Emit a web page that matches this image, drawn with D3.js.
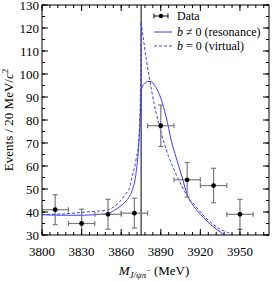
<!DOCTYPE html>
<html>
<head>
<meta charset="utf-8">
<script src="https://cdn.jsdelivr.net/npm/d3@7"></script>
<style>
  body { margin: 0; background: #fff; }
  svg text { font-family: "Liberation Serif", "DejaVu Serif", serif; }
</style>
</head>
<body>
<script>
// data
var threshold = 3875.1;
var binCenters = [3810, 3830, 3850, 3870, 3890, 3910, 3930, 3950];
var counts = [41, 35, 39, 39.5, 77.5, 54, 51.5, 39];
var countErr = [6.5, 6.2, 6.5, 6.5, 9, 7.5, 7.5, 6.5];
var binHalf = 10;

// b != 0 (resonance), left and right of threshold
var resLeftX = [3800, 3815, 3830, 3840, 3849, 3855, 3860, 3864, 3867, 3869, 3870.5, 3871.5, 3872.5, 3873.3, 3874, 3874.6, 3875.1];
var resLeftY = [38.8, 38.6, 38.6, 38.8, 39.2, 40.8, 42.8, 45, 47.5, 50.5, 54, 58, 63, 69, 76, 84, 93];
var resRightX = [3875.1, 3876, 3878, 3880, 3882, 3886, 3890, 3894, 3898, 3902, 3906, 3910, 3915, 3920, 3925, 3930, 3935, 3940, 3945];
var resRightY = [93, 94.5, 96, 96.7, 96.8, 94.5, 89.5, 81.5, 71, 63, 55.5, 47.5, 42.5, 39, 36, 33.5, 31.3, 29.3, 27.5];

// b = 0 (virtual)
var virLeftX = [3800, 3814, 3830, 3840, 3849, 3855, 3859, 3863, 3866.7, 3868, 3870, 3871.5, 3873, 3874, 3874.6, 3875.1];
var virLeftY = [38.9, 39.1, 39.8, 40.3, 40.8, 42.5, 44.6, 47.5, 51.2, 54.8, 59, 63.5, 69, 79, 92, 122.5];
var virRightX = [3875.1, 3877, 3879, 3881, 3883, 3885, 3888, 3892, 3896, 3900, 3904, 3908, 3911, 3915, 3920, 3925, 3930, 3935, 3940, 3945, 3950];
var virRightY = [122.5, 114.5, 106.5, 99.5, 93, 87, 79.5, 71, 64, 58.5, 53.5, 49, 46, 43.5, 40, 37, 34.5, 32.5, 31.3, 29.8, 28.5];

var xTicks = [3800, 3830, 3860, 3890, 3920, 3950];
var yTicks = [30, 40, 50, 60, 70, 80, 90, 100, 110, 120, 130];

var width = 274, height = 281;
var pLeft = 42, pRight = 269, pTop = 5, pBottom = 235;
var blue = "#3c3cff";

var svg = d3.select("body").append("svg")
    .attr("width", width)
    .attr("height", height);

var x = d3.scaleLinear().domain([3800, 3972]).range([pLeft, pRight]);
var y = d3.scaleLinear().domain([30, 130]).range([pBottom, pTop]);

svg.append("clipPath").attr("id", "plot")
  .append("rect")
    .attr("x", pLeft).attr("y", pTop)
    .attr("width", pRight - pLeft).attr("height", pBottom - pTop);

var g = svg.append("g").attr("clip-path", "url(#plot)");

// threshold line
g.append("line")
    .attr("x1", x(threshold)).attr("x2", x(threshold))
    .attr("y1", pTop).attr("y2", pBottom)
    .attr("stroke", "#000").attr("stroke-width", 1);

var line = d3.line().curve(d3.curveMonotoneX)
    .x(function(d) { return x(d[0]); })
    .y(function(d) { return y(d[1]); });

function drawCurve(xs, ys, dash) {
  g.append("path")
      .attr("d", line(d3.zip(xs, ys)))
      .attr("fill", "none")
      .attr("stroke", blue)
      .attr("stroke-width", 1)
      .attr("stroke-dasharray", dash);
}
drawCurve(resLeftX, resLeftY, null);
drawCurve(resRightX, resRightY, null);
drawCurve(virLeftX, virLeftY, "3,2");
drawCurve(virRightX, virRightY, "3,2");

// data points
var pts = g.selectAll(".pt")
    .data(d3.range(binCenters.length))
    .enter().append("g");

var errColor = "#7a7a7a";
pts.append("line")
    .attr("x1", function(i) { return x(binCenters[i] - binHalf); })
    .attr("x2", function(i) { return x(binCenters[i] + binHalf); })
    .attr("y1", function(i) { return y(counts[i]); })
    .attr("y2", function(i) { return y(counts[i]); })
    .attr("stroke", errColor).attr("stroke-width", 1.2);
pts.append("line")
    .attr("x1", function(i) { return x(binCenters[i]); })
    .attr("x2", function(i) { return x(binCenters[i]); })
    .attr("y1", function(i) { return y(counts[i] - countErr[i]); })
    .attr("y2", function(i) { return y(counts[i] + countErr[i]); })
    .attr("stroke", errColor).attr("stroke-width", 1.2);
// caps
[-1, 1].forEach(function(s) {
  pts.append("line")
      .attr("x1", function(i) { return x(binCenters[i] + s * binHalf); })
      .attr("x2", function(i) { return x(binCenters[i] + s * binHalf); })
      .attr("y1", function(i) { return y(counts[i]) - 2.5; })
      .attr("y2", function(i) { return y(counts[i]) + 2.5; })
      .attr("stroke", errColor).attr("stroke-width", 1.2);
  pts.append("line")
      .attr("x1", function(i) { return x(binCenters[i]) - 2.5; })
      .attr("x2", function(i) { return x(binCenters[i]) + 2.5; })
      .attr("y1", function(i) { return y(counts[i] + s * countErr[i]); })
      .attr("y2", function(i) { return y(counts[i] + s * countErr[i]); })
      .attr("stroke", errColor).attr("stroke-width", 1.2);
});
pts.append("circle")
    .attr("cx", function(i) { return x(binCenters[i]); })
    .attr("cy", function(i) { return y(counts[i]); })
    .attr("r", 2.4)
    .attr("fill", "#000");

// frame and ticks
svg.append("rect")
    .attr("x", pLeft).attr("y", pTop)
    .attr("width", pRight - pLeft).attr("height", pBottom - pTop)
    .attr("fill", "none").attr("stroke", "#000").attr("stroke-width", 1);

var xMinor = d3.range(3800, 3973, 6);
var yMinor = d3.range(30, 131, 5);

function tickSet(vals, len, horiz) {
  vals.forEach(function(v) {
    if (horiz) {
      var px = x(v);
      svg.append("line").attr("x1", px).attr("x2", px).attr("y1", pBottom).attr("y2", pBottom - len).attr("stroke", "#000");
      svg.append("line").attr("x1", px).attr("x2", px).attr("y1", pTop).attr("y2", pTop + len).attr("stroke", "#000");
    } else {
      var py = y(v);
      svg.append("line").attr("x1", pLeft).attr("x2", pLeft + len).attr("y1", py).attr("y2", py).attr("stroke", "#000");
      svg.append("line").attr("x1", pRight).attr("x2", pRight - len).attr("y1", py).attr("y2", py).attr("stroke", "#000");
    }
  });
}
tickSet(xMinor, 3, true);
tickSet(xTicks, 6, true);
tickSet(yMinor, 3, false);
tickSet(yTicks, 6, false);

svg.selectAll(".xt").data(xTicks).enter().append("text")
    .attr("x", function(d) { return x(d); })
    .attr("y", 256)
    .attr("text-anchor", "middle")
    .attr("font-size", 13)
    .text(function(d) { return d; });

svg.selectAll(".yt").data(yTicks).enter().append("text")
    .attr("x", pLeft - 3)
    .attr("y", function(d) { return y(d) + 4.5; })
    .attr("text-anchor", "end")
    .attr("font-size", 13)
    .text(function(d) { return d; });

// axis titles
var yl = svg.append("text")
    .attr("transform", "translate(13,120) rotate(-90)")
    .attr("text-anchor", "middle")
    .attr("font-size", 13);
yl.append("tspan").text("Events / 20 MeV/");
yl.append("tspan").attr("font-style", "italic").text("c");
yl.append("tspan").attr("font-size", 9).attr("dy", -5).text("2");

var xl = svg.append("text")
    .attr("x", 154).attr("y", 275)
    .attr("text-anchor", "middle")
    .attr("font-size", 13);
xl.append("tspan").attr("font-style", "italic").text("M");
xl.append("tspan").attr("font-style", "italic").attr("font-size", 9).attr("dy", 3).text("J/ψπ");
xl.append("tspan").attr("font-size", 8).attr("dy", -5).text("−");
xl.append("tspan").attr("dy", 2).text(" (MeV)");

// legend
var lg = svg.append("g");
var lx0 = 154, lx1 = 172, lt = 177;
lg.append("line").attr("x1", lx0).attr("x2", lx1 - 4).attr("y1", 16).attr("y2", 16).attr("stroke", "#000");
lg.append("line").attr("x1", lx0).attr("x2", lx0).attr("y1", 13.5).attr("y2", 18.5).attr("stroke", "#000");
lg.append("line").attr("x1", lx1 - 4).attr("x2", lx1 - 4).attr("y1", 13.5).attr("y2", 18.5).attr("stroke", "#000");
lg.append("circle").attr("cx", (lx0 + lx1 - 4) / 2).attr("cy", 16).attr("r", 2.2).attr("fill", "#000");
lg.append("text").attr("x", lt).attr("y", 20).attr("font-size", 12).text("Data");

lg.append("line").attr("x1", lx0).attr("x2", lx1).attr("y1", 32).attr("y2", 32).attr("stroke", blue);
var t1 = lg.append("text").attr("x", lt).attr("y", 36).attr("font-size", 12);
t1.append("tspan").attr("font-style", "italic").text("b");
t1.append("tspan").text(" ≠ 0 (resonance)");

lg.append("line").attr("x1", lx0).attr("x2", lx1).attr("y1", 46).attr("y2", 46).attr("stroke", blue).attr("stroke-dasharray", "3,2");
var t2 = lg.append("text").attr("x", lt).attr("y", 50).attr("font-size", 12);
t2.append("tspan").attr("font-style", "italic").text("b");
t2.append("tspan").text(" = 0 (virtual)");
</script>
</body>
</html>
